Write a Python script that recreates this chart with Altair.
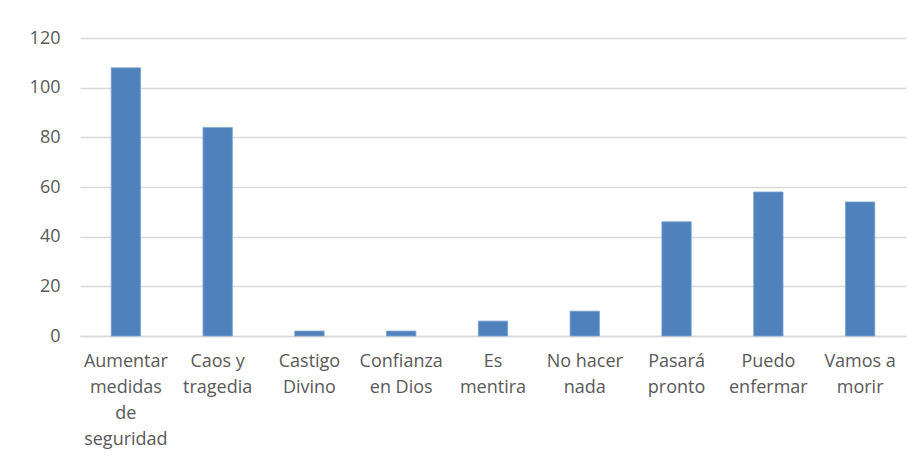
import json
import altair as alt
import pandas as pd

categories = [
    "Aumentar medidas de seguridad",
    "Caos y tragedia",
    "Castigo Divino",
    "Confianza en Dios",
    "Es mentira",
    "No hacer nada",
    "Pasará pronto",
    "Puedo enfermar",
    "Vamos a morir",
]
values = [108, 84, 2, 2, 6, 10, 46, 58, 54]
label_lines = [
    ["Aumentar", "medidas", "de", "seguridad"],
    ["Caos y", "tragedia"],
    ["Castigo", "Divino"],
    ["Confianza", "en Dios"],
    ["Es", "mentira"],
    ["No hacer", "nada"],
    ["Pasará", "pronto"],
    ["Puedo", "enfermar"],
    ["Vamos a", "morir"],
]
y_ticks = [0, 20, 40, 60, 80, 100, 120]

df = pd.DataFrame({"categoria": categories, "valor": values})
mapping = json.dumps(dict(zip(categories, label_lines)), ensure_ascii=False)

FONT = "Open Sans"
TXT = "#595959"

chart = (
    alt.Chart(df)
    .mark_bar(color="#4f81bd", stroke="#7fa3d1", strokeWidth=0.8)
    .encode(
        x=alt.X(
            "categoria:N",
            sort=categories,
            title=None,
            scale=alt.Scale(paddingInner=0.68, paddingOuter=0.34),
            axis=alt.Axis(
                labelAngle=0,
                labelExpr=mapping + "[datum.label]",
                labelFont=FONT,
                labelFontSize=18,
                labelColor=TXT,
                labelLineHeight=26,
                labelPadding=16,
                ticks=False,
                grid=False,
                domainColor="#d9d9d9",
                domainWidth=1.5,
                labelLimit=200,
            ),
        ),
        y=alt.Y(
            "valor:Q",
            title=None,
            scale=alt.Scale(domain=[0, 120], nice=False),
            axis=alt.Axis(
                values=y_ticks,
                labelFont=FONT,
                labelFontSize=18,
                labelColor=TXT,
                labelPadding=20,
                ticks=False,
                domain=False,
                gridColor="#d9d9d9",
                gridWidth=1.5,
            ),
        ),
    )
    .properties(
        width=826,
        height=298,
        background="white",
        padding={"left": 21, "top": 21, "right": 5, "bottom": 5},
    )
    .configure_view(stroke="transparent", strokeWidth=0)
)

chart.save("out.html", embed_options={"renderer": "svg", "actions": False})
